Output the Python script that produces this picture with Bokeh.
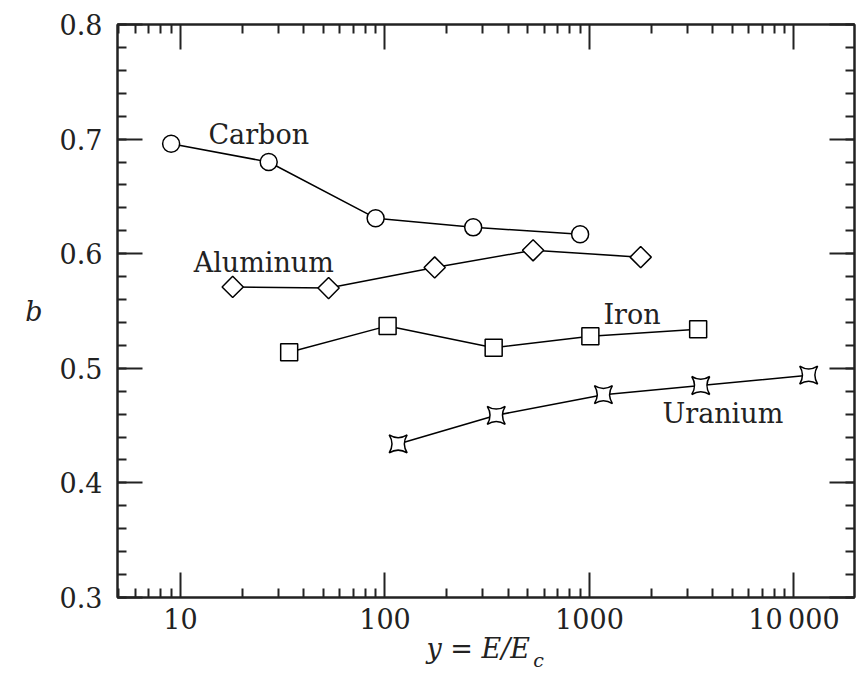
import numpy as np
from bokeh.plotting import figure
from bokeh.models import (LogAxis, LinearAxis, FixedTicker, SingleIntervalTicker,
                          Label, Range1d)
from bokeh.embed import file_html
from bokeh.resources import INLINE

# ---- data ----
carbon_x = [9, 27, 90, 270, 900]
carbon_b = [0.696, 0.680, 0.631, 0.623, 0.617]
aluminum_x = [18, 53, 175, 530, 1780]
aluminum_b = [0.571, 0.570, 0.588, 0.603, 0.597]
iron_x = [34, 103, 340, 1010, 3400]
iron_b = [0.514, 0.537, 0.518, 0.528, 0.534]
uranium_x = [116, 350, 1170, 3500, 11800]
uranium_b = [0.434, 0.459, 0.477, 0.485, 0.494]

x_major_ticks = [10, 100, 1000, 10000]
x_tick_labels = {10: "10", 100: "100", 1000: "1000", 10000: "10\u2009000"}
x_minor_ticks = [m * d for d in (1, 10, 100, 1000) for m in range(2, 10)] + [5, 6, 7, 8, 9]

series_labels = ["Carbon", "Aluminum", "Iron", "Uranium"]
x_title = "y = E/E"
x_title_sub = "c"

FONT = "DejaVu Serif"
FS = "27px"
INK = "#222222"

p = figure(width=856, height=673, x_axis_type="log",
           x_range=Range1d(4.92, 19770), y_range=Range1d(0.3, 0.8),
           output_backend="svg", toolbar_location=None,
           min_border_left=117, min_border_right=2,
           min_border_top=24, min_border_bottom=74)
p.xgrid.visible = False
p.ygrid.visible = False
p.outline_line_color = INK
p.outline_line_width = 2
p.background_fill_color = "white"
p.border_fill_color = "white"

xticker = FixedTicker(ticks=x_major_ticks, minor_ticks=x_minor_ticks)
yticker = SingleIntervalTicker(interval=0.1, num_minor_ticks=5)


def style_axis(ax, show_labels=True):
    ax.axis_line_color = INK
    ax.axis_line_width = 2
    ax.major_tick_line_color = INK
    ax.major_tick_line_width = 2
    ax.minor_tick_line_color = INK
    ax.minor_tick_line_width = 2
    ax.major_tick_in = 25
    ax.major_tick_out = 0
    ax.minor_tick_in = 9
    ax.minor_tick_out = 0
    ax.major_label_text_font = FONT
    ax.major_label_text_font_size = FS if show_labels else "0px"
    ax.major_label_text_color = INK if show_labels else None


# bottom x axis
xa = p.xaxis[0]
xa.ticker = xticker
xa.major_label_overrides = x_tick_labels
style_axis(xa)
xa.major_label_standoff = 6

# left y axis
ya = p.yaxis[0]
ya.ticker = yticker
style_axis(ya)
ya.major_label_standoff = 15
ya.axis_label = "b"
ya.axis_label_orientation = "horizontal"
ya.axis_label_text_font = FONT
ya.axis_label_text_font_style = "italic"
ya.axis_label_text_font_size = FS
ya.axis_label_text_color = INK
ya.axis_label_standoff = 14

# mirrored top / right axes
top = LogAxis(ticker=xticker)
style_axis(top, show_labels=False)
top.major_label_standoff = 0
p.add_layout(top, "above")

right = LinearAxis(ticker=yticker)
style_axis(right, show_labels=False)
right.major_label_standoff = 0
p.add_layout(right, "right")


# x-axis title "y = E/E_c", built from two label-only axes
def text_axis(pos, text, size, standoff):
    ax = LogAxis(ticker=FixedTicker(ticks=[pos], minor_ticks=[]))
    ax.major_label_overrides = {pos: text}
    ax.axis_line_color = None
    ax.major_tick_line_color = None
    ax.minor_tick_line_color = None
    ax.major_tick_in = 0
    ax.major_tick_out = 0
    ax.minor_tick_in = 0
    ax.minor_tick_out = 0
    ax.major_label_text_font = FONT
    ax.major_label_text_font_style = "italic"
    ax.major_label_text_font_size = size
    ax.major_label_text_color = INK
    ax.major_label_standoff = standoff
    return ax


p.add_layout(text_axis(286, x_title, FS, -5), "below")
p.add_layout(text_axis(564, x_title_sub, "19px", -18), "below")

# series
LW = 1.5
p.line(carbon_x, carbon_b, line_color="black", line_width=LW)
p.scatter(carbon_x, carbon_b, marker="circle", size=17, fill_color="white",
          line_color="black", line_width=LW)

p.line(aluminum_x, aluminum_b, line_color="black", line_width=LW)
p.scatter(aluminum_x, aluminum_b, marker="square", angle=np.pi / 4, size=15,
          fill_color="white", line_color="black", line_width=LW)

p.line(iron_x, iron_b, line_color="black", line_width=LW)
p.scatter(iron_x, iron_b, marker="square", size=17, fill_color="white",
          line_color="black", line_width=LW)

p.line(uranium_x, uranium_b, line_color="black", line_width=LW)
p.scatter(uranium_x, uranium_b, marker="square_pin", size=18, fill_color="white",
          line_color="black", line_width=LW)

# series labels
for txt, lx, ly in zip(series_labels, [13.7, 11.6, 1170, 2275],
                       [0.7043, 0.5921, 0.5468, 0.4608]):
    p.add_layout(Label(x=lx, y=ly, text=txt, text_font=FONT, text_font_size=FS,
                       text_color=INK, text_align="left",
                       text_baseline="alphabetic"))

open("out.html", "w").write(file_html(p, INLINE))
